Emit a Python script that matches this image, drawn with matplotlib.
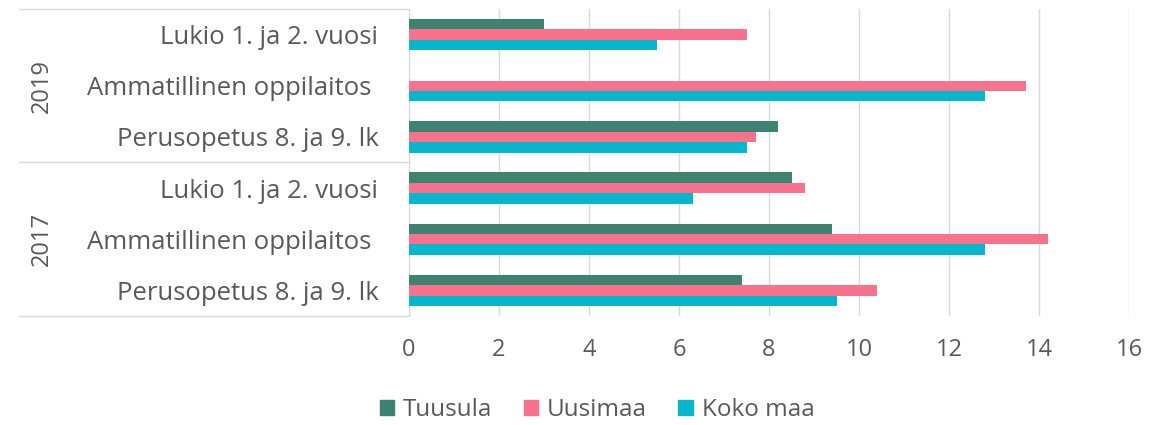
import numpy as np
import matplotlib
matplotlib.use("Agg")
import matplotlib.pyplot as plt
from matplotlib.lines import Line2D
from matplotlib.patches import Patch

# kategoriat alhaalta ylös (2017 ensin, sitten 2019)
kategoriat = ['Perusopetus 8. ja 9. lk', 'Ammatillinen oppilaitos ', 'Lukio 1. ja 2. vuosi',
              'Perusopetus 8. ja 9. lk', 'Ammatillinen oppilaitos ', 'Lukio 1. ja 2. vuosi']
vuodet = ['2017', '2019']

tuusula = [7.4, 9.4, 8.5, 8.2, np.nan, 3.0]
uusimaa = [10.4, 14.2, 8.8, 7.7, 13.7, 7.5]
koko_maa = [9.5, 12.8, 6.3, 7.5, 12.8, 5.5]

sarjat = ['Tuusula', 'Uusimaa', 'Koko maa']
varit = ['#3e8372', '#f8718d', '#05b6cd']
x_tikit = [0, 2, 4, 6, 8, 10, 12, 14, 16]

harmaa = '#595959'
viiva = '#d9d9d9'
koko = 17
plt.rcParams['font.family'] = ['Open Sans', 'DejaVu Sans']

fig = plt.figure(figsize=(11.5, 4.25), dpi=100)
ax = fig.add_axes([409 / 1150, 1 - 316 / 425, 720 / 1150, 307 / 425])

y = np.arange(len(kategoriat))
h = 0.205
for arvot, siirto, vari, nimi in zip([tuusula, uusimaa, koko_maa], [h, 0, -h], varit, sarjat):
    ax.barh(y + siirto, arvot, height=h, color=vari, label=nimi, zorder=3)

ax.set_xlim(0, 16)
ax.set_ylim(-0.5, len(kategoriat) - 0.5)
ax.set_xticks(x_tikit)
ax.set_xticklabels([str(t) for t in x_tikit], color=harmaa, fontsize=koko)
ax.set_yticks(y)
ax.set_yticklabels(kategoriat, color=harmaa, fontsize=18.5)
ax.tick_params(axis='x', length=0, pad=16)
ax.tick_params(axis='y', length=0, pad=22)
ax.xaxis.grid(True, color=viiva, linewidth=1, zorder=0)
ax.set_axisbelow(True)
for s in ['top', 'right', 'bottom']:
    ax.spines[s].set_visible(False)
ax.spines['left'].set_color(viiva)

# monitasoinen luokka-akseli: vaakaviivat ja vuodet
vasen = (19 - 409) / 720
for yy in [-0.5, 2.5, 5.5]:
    ax.add_line(Line2D([vasen, 0], [yy, yy], color=viiva, linewidth=1,
                       transform=ax.get_yaxis_transform(), clip_on=False))
for i, v in enumerate(vuodet):
    ax.text((42 - 409) / 720, 1 + 3 * i, v, rotation=90, ha='center', va='center',
            color=harmaa, fontsize=koko, transform=ax.get_yaxis_transform())

kahvat = [Patch(color=c) for c in varit]
fig.legend(kahvat, sarjat, loc='center', bbox_to_anchor=(597 / 1150, 1 - 410 / 425),
           ncol=3, frameon=False, fontsize=17.5, labelcolor=harmaa,
           handlelength=0.6, handleheight=0.6, handletextpad=0.35, columnspacing=1.3)

fig.savefig('out.png', dpi=100)
